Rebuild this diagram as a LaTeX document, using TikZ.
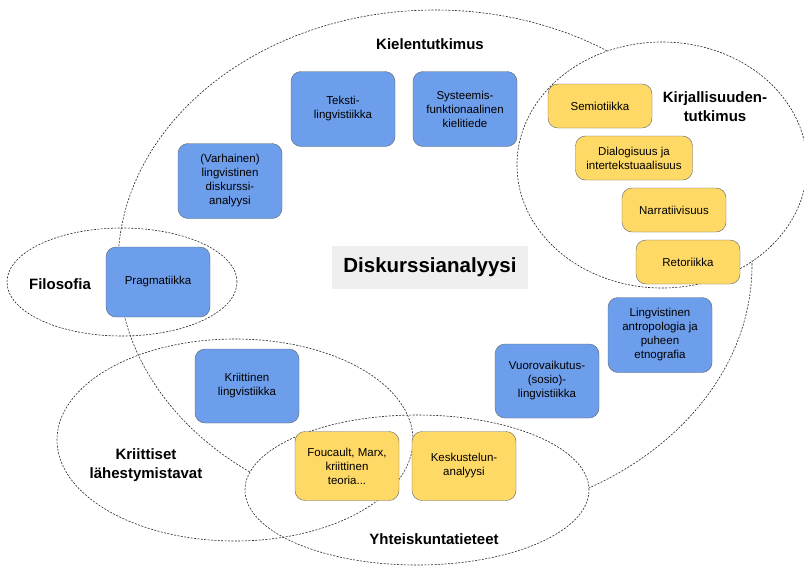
\documentclass[tikz,border=0pt]{standalone}
\usepackage{fontspec}
\setmainfont{Liberation Sans}
\usetikzlibrary{positioning}

\definecolor{sininen}{HTML}{6D9EEB}
\definecolor{keltainen}{HTML}{FFD966}
\definecolor{reuna}{HTML}{5F6368}
\definecolor{harmaa}{HTML}{EFEFEF}

\begin{document}
\begin{tikzpicture}[x=1pt,y=-1pt,
  alue/.style={draw=black!85,dash pattern=on 2pt off 1.4pt,line width=0.6pt},
  sinilaatikko/.style={draw=reuna,fill=sininen,rounded corners=10pt,align=center,
    minimum width=104pt,minimum height=75pt,inner sep=2pt,
    font=\fontsize{11.5}{14}\selectfont},
  keltalaatikko/.style={sinilaatikko,fill=keltainen,minimum height=44pt},
  otsikko/.style={align=center,font=\fontsize{15}{19}\selectfont\bfseries}]
\useasboundingbox (0,0) rectangle (804,566);

% alueet
\draw[alue,fill=white] (435,265) ellipse [x radius=317pt, y radius=255pt];
\draw[alue] (122,282) ellipse [x radius=115pt, y radius=54pt];
\draw[alue,fill=white] (662,165) ellipse [x radius=145pt, y radius=123pt];
\draw[alue,fill=white] (417,490) ellipse [x radius=172pt, y radius=75pt];
\draw[alue] (235,440) ellipse [x radius=178pt, y radius=101pt];

% otsikot
\node[otsikko] (kieli) at (430,44) {Kielentutkimus};
\node[otsikko] (filo) at (60,284) {Filosofia};
\node[otsikko] (kirja) at (715,107) {Kirjallisuuden-\\tutkimus};
\node[otsikko] (kriit) at (146,465) {Kriittiset\\lähestymistavat};
\node[otsikko] (yhteis) at (434,539) {Yhteiskuntatieteet};

\node[fill=harmaa,minimum width=196pt,minimum height=43pt,
  font=\fontsize{20.5}{24}\selectfont\bfseries] (da) at (430,267) {Diskurssianalyysi};

% laatikot
\node[sinilaatikko] (teksti) at (343,109) {Teksti-\\lingvistiikka};
\node[sinilaatikko] (sfl) at (465,109) {Systeemis-\\funktionaalinen\\kielitiede};
\node[sinilaatikko] (varh) at (230,181) {(Varhainen)\\lingvistinen\\diskurssi-\\analyysi};
\node[sinilaatikko,minimum height=70pt] (prag) at (158,282) {Pragmatiikka};
\node[sinilaatikko,minimum height=74pt] (krling) at (247,386) {Kriittinen\\lingvistiikka};
\node[sinilaatikko,minimum height=74pt] (vuoro) at (547,381) {Vuorovaikutus-\\(sosio)-\\lingvistiikka};
\node[sinilaatikko] (antro) at (660,335) {Lingvistinen\\antropologia ja\\puheen\\etnografia};

\node[keltalaatikko,minimum height=69pt] (fouc) at (347,466) {Foucault, Marx,\\kriittinen\\teoria...};
\node[keltalaatikko,minimum height=69pt] (kesk) at (464,466) {Keskustelun-\\analyysi};
\node[keltalaatikko] (semio) at (600,106) {Semiotiikka};
\node[keltalaatikko,minimum width=117pt] (dialo) at (634,158) {Dialogisuus ja\\intertekstuaalisuus};
\node[keltalaatikko] (narra) at (674,210) {Narratiivisuus};
\node[keltalaatikko] (retor) at (688,262) {Retoriikka};
\end{tikzpicture}
\end{document}
